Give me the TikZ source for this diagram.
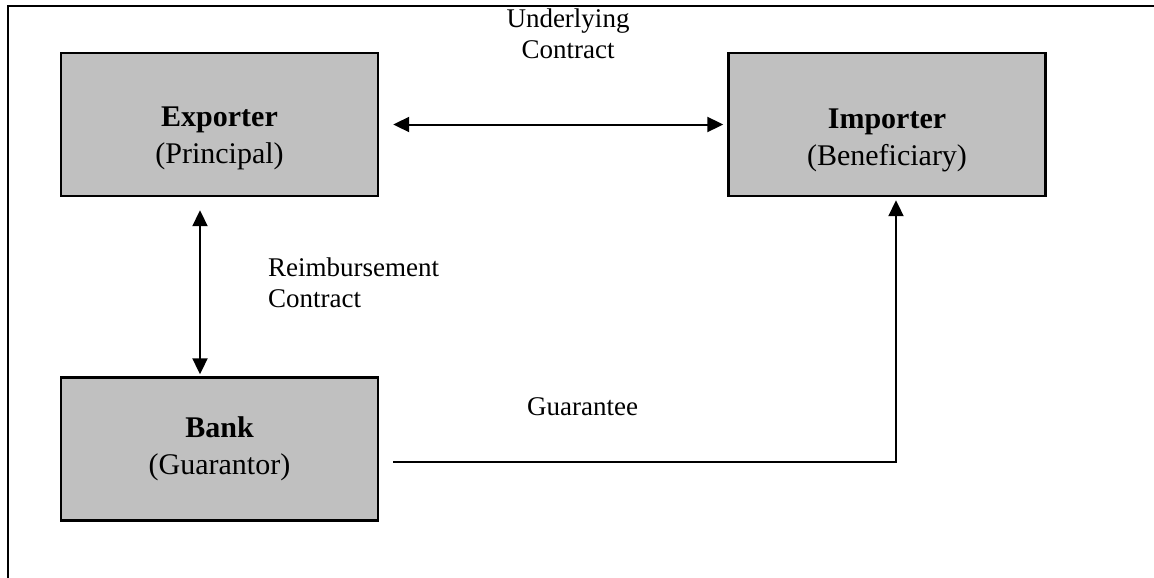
\documentclass[tikz,border=0pt]{standalone}
\usepackage{fontspec}
\setmainfont{Liberation Serif}
\usetikzlibrary{arrows.meta,calc}
\begin{document}
\begin{tikzpicture}[x=1pt,y=-1pt,
  box/.style={draw=black,line width=2.4pt,fill=boxgray,minimum width=317pt,minimum height=143pt,inner sep=0pt},
  boxtext/.style={align=center,font=\fontsize{30}{37}\selectfont,inner sep=0pt},
  lbl/.style={align=left,font=\fontsize{27}{31}\selectfont,inner sep=0pt},
  conn/.style={line width=2pt,-{Triangle[length=16pt,width=15pt]}},
  conn2/.style={line width=2pt,{Triangle[length=16pt,width=15pt]}-{Triangle[length=16pt,width=15pt]}}]
\definecolor{boxgray}{HTML}{C0C0C0}
\useasboundingbox (0,0) rectangle (1154,578);
% outer frame (cut off on right and bottom)
\draw[line width=2.2pt] (8,578) -- (8,6) -- (1154,6);
% boxes
\node[box] (exp) at (219.5,124.5) {};
\node[box] (imp) at (887,124.5) {};
\node[box] (bank) at (219.5,449) {};
% box texts
\node[boxtext] (expt) at (219.5,138) {\textbf{Exporter}\\(Principal)};
\node[boxtext] (impt) at (887,140) {\textbf{Importer}\\(Beneficiary)};
\node[boxtext] (bankt) at (219.5,449) {\textbf{Bank}\\(Guarantor)};
% labels
\node[lbl,align=center] (ul) at (568,34) {Underlying\\Contract};
\node[lbl,anchor=west] (rl) at (268,283) {Reimbursement\\Contract};
\node[lbl,anchor=west] (gl) at (527,407) {Guarantee};
% connectors
\draw[conn2] ([xshift=14pt]exp.east) -- ([xshift=-4pt]imp.west);
\draw[conn2] ([xshift=-19.5pt,yshift=-13pt]exp.south) -- ([xshift=-19.5pt,yshift=2pt]bank.north);
\draw[conn] ([xshift=14pt,yshift=-13pt]bank.east) -| ([xshift=9pt,yshift=-3pt]imp.south);
\end{tikzpicture}
\end{document}
